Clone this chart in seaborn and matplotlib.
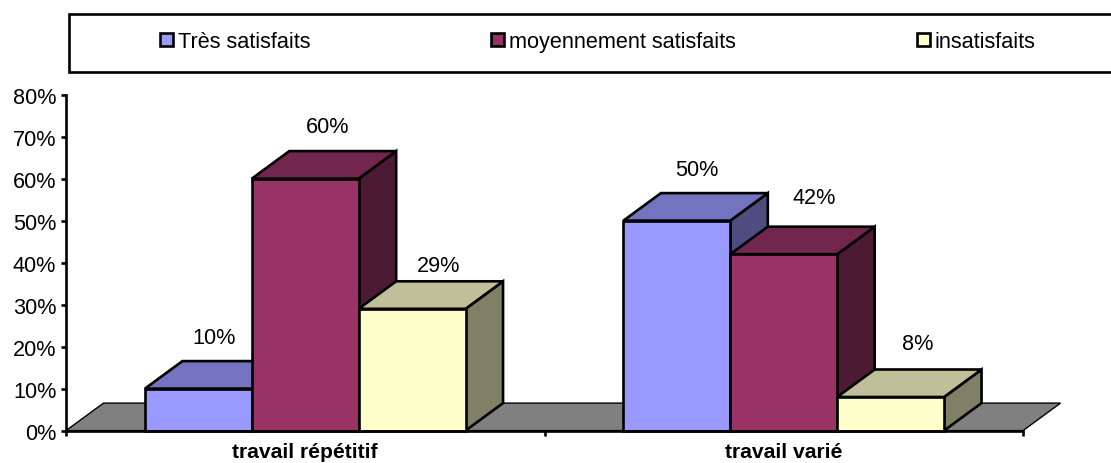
import matplotlib
matplotlib.use("Agg")
import matplotlib.pyplot as plt
from matplotlib.patches import Polygon, Rectangle, Patch
import pandas as pd
import seaborn as sns

categories = ["travail répétitif", "travail varié"]
series_names = ["Très satisfaits", "moyennement satisfaits", "insatisfaits"]
tres_satisfaits = [10, 50]
moyennement_satisfaits = [60, 42]
insatisfaits = [29, 8]

front_colors = ["#9999FF", "#993366", "#FFFFCC"]
top_colors = ["#7373BF", "#73264D", "#BFBF99"]
side_colors = ["#4D4D80", "#4D1A33", "#808066"]
floor_color = "#808080"

W, H = 1111, 464
LEFT, RIGHT, BOTTOM, TOP = 66, 1023, 431.6, 95.6
FONT = 15.55
EDGE = 1.9
INK = "#000000"

sns.set_theme(style="ticks")
plt.rcParams["font.family"] = ["Liberation Sans", "DejaVu Sans"]
plt.rcParams["text.color"] = INK

frame = pd.DataFrame({
    "categorie": categories * 3,
    "serie": [s for s in series_names for _ in categories],
    "part": tres_satisfaits + moyennement_satisfaits + insatisfaits,
})

fig = plt.figure(figsize=(W / 100, H / 100), dpi=100)
ax = fig.add_axes([LEFT / W, 1 - BOTTOM / H, (RIGHT - LEFT) / W, (BOTTOM - TOP) / H])

sns.barplot(
    data=frame, x="categorie", y="part", hue="serie", order=categories,
    hue_order=series_names, palette=front_colors, saturation=1, width=0.67,
    gap=0, edgecolor="black", linewidth=EDGE, legend=False, ax=ax, zorder=5,
)
ax.set_xlim(-0.5, 1.5)
ax.set_ylim(0, 80)

# Receding offset of the oblique projection, in data units
depth_x = 37.5 * 2 / (RIGHT - LEFT)
depth_y = 27.5 * 80 / (BOTTOM - TOP)

floor = Polygon(
    [(-0.5, 0), (-0.5 + depth_x, depth_y), (1.5 + depth_x, depth_y), (1.5, 0)],
    closed=True, facecolor=floor_color, edgecolor="black", linewidth=1.0,
    clip_on=False, zorder=1,
)
ax.add_patch(floor)

# Label shifts in pixels from the front-top centre of each bar
label_shift = {
    (0, 0): (16, 51), (0, 1): (22, 52), (0, 2): (26, 43),
    (1, 0): (20, 51), (1, 1): (30, 57), (1, 2): (27, 53),
}

for s, container in enumerate(ax.containers):
    for c, bar in enumerate(container):
        x0, x1 = bar.get_x(), bar.get_x() + bar.get_width()
        v = bar.get_height()
        base_z = 2 + c * 10 + s * 2
        top_face = Polygon(
            [(x0, v), (x0 + depth_x, v + depth_y), (x1 + depth_x, v + depth_y), (x1, v)],
            closed=True, facecolor=top_colors[s], edgecolor="black", linewidth=EDGE,
            joinstyle="miter", clip_on=False, zorder=base_z,
        )
        side_face = Polygon(
            [(x1, 0), (x1, v), (x1 + depth_x, v + depth_y), (x1 + depth_x, depth_y)],
            closed=True, facecolor=side_colors[s], edgecolor="black", linewidth=EDGE,
            joinstyle="miter", clip_on=False, zorder=base_z,
        )
        ax.add_patch(side_face)
        ax.add_patch(top_face)
        bar.set_zorder(base_z + 1)
        bar.set_clip_on(False)
        ax.annotate(
            f"{v:.0f}%", xy=((x0 + x1) / 2, v), xytext=label_shift[(c, s)],
            textcoords="offset pixels", ha="center", va="center",
            fontsize=FONT, zorder=40, annotation_clip=False,
        )

sns.despine(ax=ax)
for side in ("left", "bottom"):
    ax.spines[side].set_linewidth(EDGE)
    ax.spines[side].set_color("black")
    ax.spines[side].set_zorder(30)

ax.set_xlabel("")
ax.set_ylabel("")
ax.set_yticks(range(0, 81, 10))
ax.set_yticklabels([f"{t}%" for t in range(0, 81, 10)], fontsize=FONT)
ax.tick_params(axis="y", length=3.8, width=EDGE, pad=3.2, color="black", labelcolor=INK)
ax.set_xticks([0, 1])
ax.set_xticklabels(categories, fontsize=15.2, fontweight="bold")
ax.set_xticks([-0.5, 0.5, 1.5], minor=True)
ax.tick_params(axis="x", which="major", length=0, pad=8.4, labelcolor=INK)
ax.tick_params(axis="x", which="minor", length=3.8, width=EDGE, color="black")

# Legend band running off the right edge of the figure
fig.add_artist(Rectangle(
    (69 / W, 1 - 72.5 / H), (W + 10 - 69) / W, 58 / H, transform=fig.transFigure,
    facecolor="white", edgecolor="black", linewidth=EDGE,
))
handles = [Patch(facecolor=c, edgecolor="black", linewidth=EDGE) for c in front_colors]
legend = fig.legend(
    handles, series_names, loc="center left",
    bbox_to_anchor=(160 / W, 1 - 42.5 / H), ncol=3, frameon=False,
    fontsize=FONT, handlelength=0.6, handleheight=0.6, handletextpad=0.24,
    columnspacing=8.36, borderpad=0, borderaxespad=0,
)

fig.savefig("out.png", dpi=100, facecolor="white")
